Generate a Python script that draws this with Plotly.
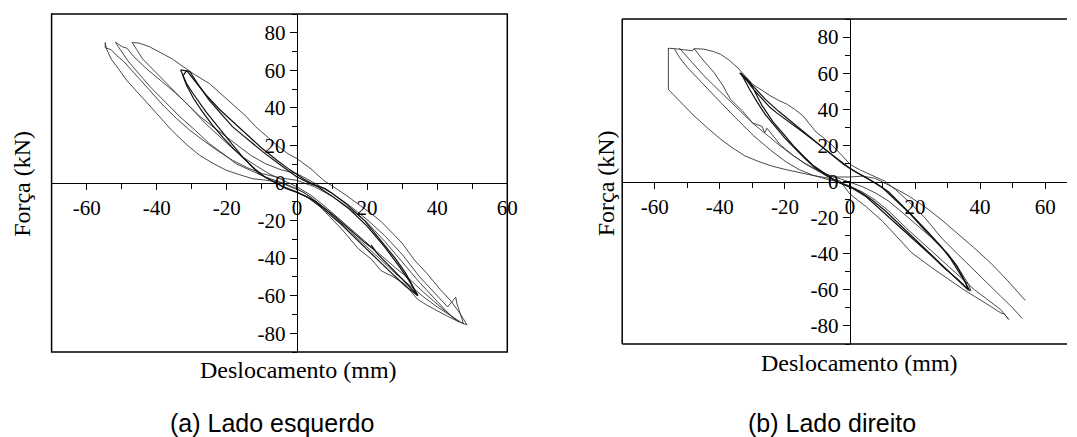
import plotly.graph_objects as go

# ---------------- DATA ----------------
x_tick_vals = [-60, -40, -20, 0, 20, 40, 60]
x_tick_text = ["-60", "-40", "-20", "0", "20", "40", "60"]
x_minor_vals = [-70, -50, -30, -10, 10, 30, 50]
y_tick_vals = [-80, -60, -40, -20, 0, 20, 40, 60, 80]
y_tick_text = ["-80", "-60", "-40", "-20", "0", "20", "40", "60", "80"]
y_minor_vals = [-90, -70, -50, -30, -10, 10, 30, 50, 70, 90]

x_title = "Deslocamento (mm)"
y_title = "Força (kN)"
caption_left = "(a) Lado esquerdo"
caption_right = "(b) Lado direito"

# Left panel (a) curves
left_top_x = [-47, -45, -42, -39, -35.5, -32.5, -29, -25, -21, -17.4, -14.5, -11.8, -8.5, -5.2, -2.5, 0, 4, 7.6, 10, 14, 18, 21, 24, 27, 30, 33.5, 37, 41, 44, 46.7, 48.5]
left_top_y = [74.8, 74.5, 72.5, 69.5, 66, 62, 57.5, 53, 46.5, 40.6, 35.5, 30, 24.5, 19.3, 15.5, 13, 7.5, 1.4, -1.5, -6.5, -12, -16, -20.5, -26, -32, -41, -48, -57, -63, -70, -75.5]

left_top2_x = [-51.8, -50.5, -49.8, -48.5, -46.6, -43, -39, -35, -31.5, -28, -24, -20, -16.5, -13, -9, -4.5, 0, 5, 10, 15, 20, 25, 30, 35, 40, 43, 45.3, 45.6, 47, 47.5]
left_top2_y = [75, 73.5, 72.5, 71.8, 67.4, 61, 55, 48.5, 42.4, 36, 30, 24.5, 19.3, 14.5, 10.3, 7, 5, 0, -5.5, -12, -19.5, -28, -38, -50, -60, -66, -60.8, -64, -72, -75]

left_top3_x = [-54.7, -54.7, -53, -51.5, -49.4, -45.5, -41.9, -38, -34.4, -30.5, -26.8, -22.5, -18.4, -14, -9.9, -5, 0, 5, 10, 15, 20, 25, 30, 35, 40, 43, 46]
left_top3_y = [74.8, 72, 71, 68, 64.7, 56.5, 48.7, 41, 34.4, 28, 22.8, 17, 12.1, 8, 5, 2.8, 1.4, -2, -7, -13.5, -21, -31, -42, -53, -63, -69, -74]

left_low1_x = [48.5, 46.7, 43, 40, 37, 34.4, 30.7, 27.5, 24, 21.2, 17.5, 12.7, 9, 5, 2, 0, -3, -5.2, -9, -12.7, -16.5, -20.2, -24, -27.8, -31.5, -35.8, -40, -43, -45.7, -48.5, -51, -53, -54.3, -54.7]
left_low1_y = [-75.5, -74.3, -71, -68, -65, -61.9, -53.8, -50, -46.7, -40.5, -35, -24.4, -17, -9.5, -5, -3.5, -1.5, 0.5, 1.5, 2.3, 4.5, 6.8, 10.5, 14.8, 20.5, 28.2, 37, 43, 48.7, 54.5, 61, 66, 71.3, 74.8]

left_low2_x = [47.5, 44, 40, 36, 32, 28, 24, 20, 16, 12, 8, 4, 0, -4, -9, -13, -17.4, -21, -25, -29, -33.4, -37.5, -41.9, -45, -48, -50.4, -51.8]
left_low2_y = [-75, -71, -66, -60.5, -54.5, -48, -41, -34, -27, -20, -13.5, -7.5, -3, 0, 3.2, 6.5, 10.3, 15.5, 21, 28, 35.3, 43, 51.3, 58, 64.5, 71, 75]

left_low3_x = [46, 43, 40, 36, 32, 28, 24, 20, 16, 12, 8, 4, 0, -4, -8, -11.5, -15.5, -19, -22.1, -26, -29.7, -33.5, -37.2, -41, -44, -45.7, -47]
left_low3_y = [-74, -69.5, -64.5, -58, -51, -45, -38.5, -32, -25, -18.5, -12.5, -6.5, -2, 1.5, 5, 9, 13.9, 19.5, 24.6, 31.5, 38.9, 46, 53, 60, 66, 71, 74.8]

left_bundle1_x = [-33.2, -31.5, -30.6, -28, -25, -21.5, -18.4, -15.5, -12.7, -9, -5.2, -2.5, 0, 4, 8, 10, 14, 19.3, 24, 28, 31, 34.5,
                  32, 29, 26, 22.6, 21.2, 22.3, 19.3, 15, 10, 5, 0, -4.2, -5.2, -8, -10.8, -13, -15.5, -18, -20.2, -23, -26, -29.7, -31.5, -33.2]
left_bundle1_y = [60.2, 59.5, 59.4, 52, 44, 36.5, 30, 25.5, 21, 15.5, 10.3, 6.5, 3.2, -0.5, -3, -5.5, -11, -20, -31, -40, -48, -60,
                  -55, -49, -43.5, -37, -33, -36, -31.6, -24.5, -16.5, -9.5, -4.8, -1.8, -0.4, 2, 5, 9, 13.9, 19.5, 24.6, 30.5, 38, 47.8, 53, 60.2]

left_bundle2_x = [-31.5, -29, -26, -22, -18, -14, -10, -6, -2, 2, 6, 10, 15, 20, 25, 29, 32, 34.5,
                  31, 27, 22, 17, 12, 7, 3, 0, -3, -6, -9, -12, -15, -18, -21, -24, -27, -29.5, -31.5, -32.5, -31.5]
left_bundle2_y = [60, 54, 47, 39, 32, 25, 18.5, 12.5, 7, 2, -2, -7, -14, -23, -34, -44, -52, -60,
                  -55, -48, -39, -30, -21, -13, -7.5, -5, -3, 0, 3, 7.5, 12.5, 18, 24, 30.5, 38, 45, 52, 57, 60]

# Right panel (b) curves
right_r1_x = [-55.8, -55.8, -54.5, -51, -48, -44, -39.6, -36, -32.3, -28, -23.9, -19.5, -15.5, -11, -7, -3, 0, 5, 10, 15, 19, 25, 30, 35, 40, 44, 46.3, 47.5, 48.8]
right_r1_y = [73.8, 51, 48.5, 42, 36.5, 30, 23.2, 18.5, 14.2, 11, 8.5, 6.5, 4.8, 3.2, 2, 0.3, -7, -14, -22, -32, -39.5, -47.5, -54, -60, -65.5, -70, -72.7, -73.5, -76.4]

right_r2_x = [-56, -55.8, -54, -50, -48.4, -47.9, -44.9, -42, -39.8, -37, -34.5, -32, -29.7, -27, -24.6, -22, -19.6, -17, -14.5, -12.5, -10.4, -8, -5.4, -2.5, 0, 3, 7.5, 10.7, 14, 18, 23, 28, 33, 38, 42, 46.3, 50, 52.9]
right_r2_y = [73.3, 73.8, 73.6, 72.9, 72.4, 73.6, 73.3, 72, 70.5, 67, 63, 58, 53.5, 50.5, 47.6, 45, 43, 40, 36.5, 32, 27.4, 24, 20, 14.5, 9.5, 6.5, 3, 0.2, -4.5, -11, -20, -31, -40, -49, -56, -63.5, -70, -75.8]

right_r3_x = [-54, -52.5, -50, -45, -39.8, -35, -29.7, -24.5, -19.6, -15.5, -11.4, -7, -3, 0, 4, 7.8, 12, 17.9, 23, 28, 33, 38.2, 42, 46.3, 48.8]
right_r3_y = [73.6, 69, 63.2, 53.5, 43.9, 35, 25.5, 17.5, 10.8, 6.5, 3.5, 1.2, -0.5, -2.5, -6, -10.3, -16.5, -26.8, -35, -43.3, -51.5, -59.9, -65, -70.9, -76.4]

right_r4_x = [-52.5, -50, -47, -44.9, -40, -34.8, -30, -27, -26.2, -25.5, -21.5, -17.5, -13.5, -9.4, -5, 0, 4, 7.8, 12.9, 18, 23, 28, 33.1, 38, 43.3, 48.5, 53.9]
right_r4_y = [74, 69, 63, 58.6, 50, 41.1, 32.5, 30.5, 27, 29.5, 20.5, 14.5, 9.5, 5.3, 2.5, 2.5, 3, 1.7, -2.9, -8, -14, -21, -28.7, -36.5, -45.2, -55, -65.9]

right_r5_x = [-47.9, -45.5, -41.8, -39, -36.8, -33, -29.7, -25.5, -21.6, -18, -14.5, -10.5, -6.4, -3, 0, 4, 8, 12, 16, 20, 25, 30, 34, 36.5, 37.2]
right_r5_y = [73.6, 68, 60.4, 53, 45.7, 39, 32, 25.5, 20, 15, 10.8, 6.8, 3.5, 1.5, -0.5, -3, -6.5, -11, -17, -23, -31, -40, -50, -57, -60.8]

right_bundle1_x = [-33.9, -31.5, -29.7, -27, -24.6, -22.5, -20.6, -17.5, -14.5, -11, -7.4, -3.5, 0, 4, 8, 12, 16, 20, 24, 28, 31, 33.5, 35.5, 36.3,
                   34, 31, 27, 23, 19, 15, 11, 7, 3, 0, -3, -5.4, -8.5, -11.4, -14.5, -17.5, -20.5, -23.6, -27, -30.7, -33.9]
right_bundle1_y = [60.2, 55.5, 51.2, 46, 41.1, 38, 35.6, 31.5, 27.4, 22.5, 17.3, 12, 7.2, 3, -1, -6, -13, -20.5, -28, -36, -43, -50, -56, -60,
                   -56, -51, -44, -37, -30, -23, -16.5, -10.5, -5.5, -3, -1, 1.7, 5.5, 9, 14.5, 20, 26.5, 32.9, 42, 54.9, 60.2]

right_bundle2_x = [-33.5, -30, -26, -22, -18, -14, -10, -6, -2, 2, 6, 10, 14, 18, 22, 26, 30, 33, 35, 36.8,
                   33, 29, 25, 21, 17, 13, 9, 5, 1, -2, -5, -8, -11, -14, -17, -20, -23, -26, -28.5, -31, -33.5]
right_bundle2_y = [60, 53, 45.5, 39, 33, 27, 21, 15, 9.5, 5, 1, -3.5, -10, -17, -25, -32.5, -40, -47, -54, -60.5,
                   -54, -48, -41, -34.5, -27.5, -21, -14.5, -8.5, -4, -1.5, 0.8, 4, 8, 13, 18.5, 24, 30.5, 37, 44, 51.5, 60]

left_curves = [
    (left_top_x, left_top_y, "thin"), (left_top2_x, left_top2_y, "thin"), (left_top3_x, left_top3_y, "thin"),
    (left_low1_x, left_low1_y, "thin"), (left_low2_x, left_low2_y, "thin"), (left_low3_x, left_low3_y, "thin"),
    (left_bundle1_x, left_bundle1_y, "thick"), (left_bundle2_x, left_bundle2_y, "thick"),
]
right_curves = [
    (right_r1_x, right_r1_y, "thin"), (right_r2_x, right_r2_y, "thin"), (right_r3_x, right_r3_y, "thin"),
    (right_r4_x, right_r4_y, "thin"), (right_r5_x, right_r5_y, "thin"),
    (right_bundle1_x, right_bundle1_y, "thick"), (right_bundle2_x, right_bundle2_y, "thick"),
]

# ---------------- FIGURE ----------------
PAGE_W, PAGE_H = 1077, 437
OFF = 8                      # default page margin around the plot div
W, H = PAGE_W - OFF, PAGE_H - OFF
FONT = "Liberation Serif, Times New Roman, serif"
styles = {"thin": dict(color="#363636", width=0.9), "thick": dict(color="#111111", width=1.2)}

def px(xp):
    return (xp - OFF) / W

def py(yp):
    return 1 - (yp - OFF) / H

fig = go.Figure()
for cx, cy, st in left_curves:
    fig.add_trace(go.Scatter(x=cx, y=cy, mode="lines", line=styles[st], xaxis="x", yaxis="y",
                             showlegend=False, hoverinfo="skip"))
for cx, cy, st in right_curves:
    fig.add_trace(go.Scatter(x=cx, y=cy, mode="lines", line=styles[st], xaxis="x2", yaxis="y2",
                             showlegend=False, hoverinfo="skip"))

# panel geometry (page pixels)
L_px = dict(x0=52, x1=512, y0=14, y1=352)
R_px = dict(x0=628, x1=1077, y0=19, y1=344)
L_xr, L_yr = [-70, 60], [-90, 90]
R_xr, R_yr = [-70, 66.7], [-90, 90]

def dom(p):
    return [px(p["x0"]), min(1.0, px(p["x1"]))], [py(p["y1"]), py(p["y0"])]

def zero_pos(d, r):
    return d[0] + (0 - r[0]) / (r[1] - r[0]) * (d[1] - d[0])

Lxd, Lyd = dom(L_px)
Rxd, Ryd = dom(R_px)

tickfont = dict(family=FONT, size=21, color="black")

def xaxis(d, r, pos):
    return dict(domain=d, range=r, anchor="free", position=pos, showgrid=False, zeroline=False,
                showline=True, linecolor="black", linewidth=1.4,
                tickmode="array", tickvals=x_tick_vals, ticktext=x_tick_text,
                ticks="outside", ticklen=6, tickwidth=1.2, tickcolor="black", tickfont=tickfont,
                minor=dict(tickmode="array", tickvals=x_minor_vals, ticks="outside", ticklen=5,
                           tickwidth=1.1, tickcolor="black", showgrid=False),
                fixedrange=True)

def yaxis(d, r, pos):
    return dict(domain=d, range=r, anchor="free", position=pos, showgrid=False, zeroline=False,
                showline=True, linecolor="black", linewidth=1.4,
                tickmode="array", tickvals=y_tick_vals, ticktext=y_tick_text,
                ticks="outside", ticklen=7, tickwidth=1.2, tickcolor="black", tickfont=tickfont,
                minor=dict(tickmode="array", tickvals=y_minor_vals, ticks="outside", ticklen=5,
                           tickwidth=1.1, tickcolor="black", showgrid=False),
                fixedrange=True)

fig.update_layout(
    width=W, height=H, margin=dict(l=0, r=0, t=0, b=0),
    paper_bgcolor="white", plot_bgcolor="white", showlegend=False,
    xaxis=xaxis(Lxd, L_xr, zero_pos(Lyd, L_yr)),
    yaxis=yaxis(Lyd, L_yr, zero_pos(Lxd, L_xr)),
    xaxis2=xaxis(Rxd, R_xr, zero_pos(Ryd, R_yr)),
    yaxis2=yaxis(Ryd, R_yr, zero_pos(Rxd, R_xr)),
)

frame = dict(color="black", width=1.5)
shapes = [dict(type="rect", xref="paper", yref="paper", x0=Lxd[0], x1=Lxd[1], y0=Lyd[0], y1=Lyd[1], line=frame)]
for (a0, b0, a1, b1) in [(Rxd[0], Ryd[0], Rxd[0], Ryd[1]), (Rxd[0], Ryd[1], Rxd[1], Ryd[1]), (Rxd[0], Ryd[0], Rxd[1], Ryd[0])]:
    shapes.append(dict(type="line", xref="paper", yref="paper", x0=a0, y0=b0, x1=a1, y1=b1, line=frame))
fig.update_layout(shapes=shapes)

titlefont = dict(family=FONT, size=24, color="black")
capfont = dict(family="Liberation Sans, Arial, sans-serif", size=25, color="black")
ann = [
    dict(text=x_title, x=px(301), y=py(370), font=titlefont),
    dict(text=x_title, x=px(868), y=py(363), font=titlefont),
    dict(text=y_title, x=px(22), y=py(184), font=titlefont, textangle=-90),
    dict(text=y_title, x=px(612), y=py(183), font=titlefont, textangle=-90),
    dict(text=caption_left, x=px(274), y=py(423), font=capfont),
    dict(text=caption_right, x=px(840), y=py(423), font=capfont),
]
for a in ann:
    a.update(xref="paper", yref="paper", xanchor="center", yanchor="middle", showarrow=False)
fig.update_layout(annotations=ann)

fig.write_html("out.html")
